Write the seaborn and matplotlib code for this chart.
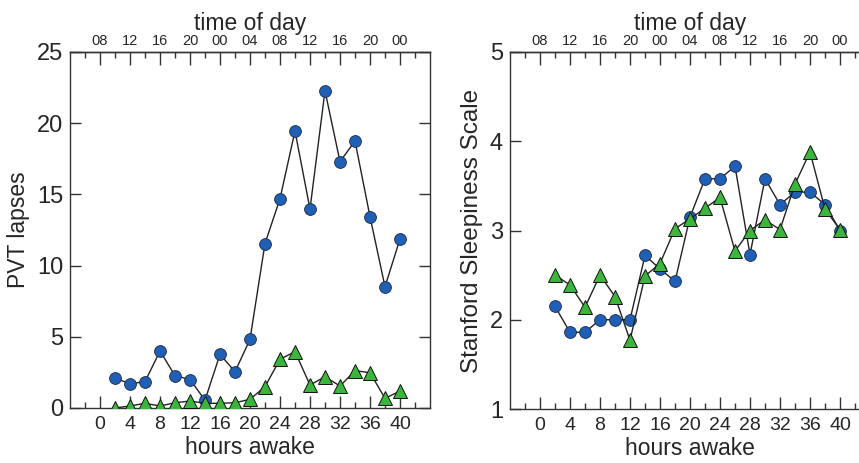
import numpy as np
import pandas as pd
import matplotlib
matplotlib.use("Agg")
import matplotlib.pyplot as plt
import seaborn as sns

# ---------------- data ----------------
hours = [2, 4, 6, 8, 10, 12, 14, 16, 18, 20, 22, 24, 26, 28, 30, 32, 34, 36, 38, 40]
pvt_blue = [2.1, 1.7, 1.85, 4.0, 2.27, 2.0, 0.55, 3.77, 2.55, 4.82, 11.55, 14.7, 19.45,
            13.97, 22.28, 17.3, 18.75, 13.44, 8.52, 11.87]
pvt_green = [0.0, 0.14, 0.33, 0.14, 0.37, 0.49, 0.33, 0.33, 0.37, 0.61, 1.5, 3.42, 3.96,
             1.61, 2.2, 1.54, 2.62, 2.48, 0.68, 1.19]
sss_blue = [2.15, 1.86, 1.86, 2.0, 2.0, 2.0, 2.72, 2.57, 2.43, 3.15, 3.58, 3.58, 3.72,
            2.73, 3.58, 3.29, 3.43, 3.43, 3.29, 3.0]
sss_green = [2.5, 2.39, 2.14, 2.5, 2.26, 1.77, 2.49, 2.63, 3.02, 3.13, 3.25, 3.37, 2.77,
             3.0, 3.12, 3.01, 3.52, 3.88, 3.24, 3.01]
bottom_ticks = [0, 4, 8, 12, 16, 20, 24, 28, 32, 36, 40]
top_labels = ["08", "12", "16", "20", "00", "04", "08", "12", "16", "20", "00"]
left_yticks = [0, 5, 10, 15, 20, 25]
right_yticks = [1, 2, 3, 4, 5]

df = pd.DataFrame({"hours": hours, "pvt_blue": pvt_blue, "pvt_green": pvt_green,
                   "sss_blue": sss_blue, "sss_green": sss_green})

# ---------------- style ----------------
sns.set_theme(style="ticks")
plt.rcParams["font.family"] = ["Liberation Sans", "DejaVu Sans"]
plt.rcParams["axes.edgecolor"] = "#333333"
plt.rcParams["axes.linewidth"] = 1.0

BLUE = "#1f5fb5"
GREEN = "#3cb53c"
LINE = "#222222"

fig = plt.figure(figsize=(8.59, 4.63), dpi=100)
W, H = 859.0, 463.0
ax1 = fig.add_axes([70 / W, (H - 408) / H, 360 / W, 356 / H])
ax2 = fig.add_axes([510 / W, (H - 409) / H, 360 / W, 357 / H])


def draw(ax, yb, yg, ylim, yticks, ylabel, ylabel_size):
    sns.lineplot(data=df, x="hours", y=yb, ax=ax, color=LINE, linewidth=1.0,
                 marker="o", markersize=8.5, markerfacecolor=BLUE,
                 markeredgecolor="#1a2a40", markeredgewidth=0.6, zorder=3)
    sns.lineplot(data=df, x="hours", y=yg, ax=ax, color=LINE, linewidth=1.0,
                 marker="^", markersize=9.5, markerfacecolor=GREEN,
                 markeredgecolor="#111111", markeredgewidth=0.7, zorder=4)
    ax.set_xlim(-4, 44)
    ax.set_ylim(*ylim)
    ax.set_xticks(bottom_ticks)
    ax.set_xticks(np.arange(-2, 44, 4), minor=True)
    ax.set_yticks(yticks)
    ax.tick_params(axis="x", which="major", direction="in", length=9, width=1,
                   color="#333333", labelsize=14, pad=6, top=False)
    ax.tick_params(axis="x", which="minor", direction="in", length=4, width=1,
                   color="#333333", top=False)
    ax.tick_params(axis="y", which="major", direction="in", length=8, width=1,
                   color="#333333", labelsize=17, pad=5, right=True)
    ax.set_xlabel("hours awake", fontsize=16.5, labelpad=2)
    ax.set_ylabel(ylabel, fontsize=ylabel_size, labelpad=5)
    for s in ax.spines.values():
        s.set_visible(True)

    sec = ax.secondary_xaxis("top")
    sec.set_xticks(bottom_ticks)
    sec.set_xticklabels(top_labels)
    sec.set_xticks(np.arange(-2, 44, 4), minor=True)
    sec.tick_params(axis="x", which="major", direction="in", length=9, width=1,
                    color="#333333", labelsize=10.5, pad=3)
    sec.tick_params(axis="x", which="minor", direction="in", length=4, width=1,
                    color="#333333")
    sec.set_xlabel("time of day", fontsize=16.5, labelpad=3)


draw(ax1, "pvt_blue", "pvt_green", (0, 25), left_yticks, "PVT lapses", 16.5)
draw(ax2, "sss_blue", "sss_green", (1, 5), right_yticks, "Stanford Sleepiness Scale", 17.5)

fig.savefig("out.png", dpi=100)
